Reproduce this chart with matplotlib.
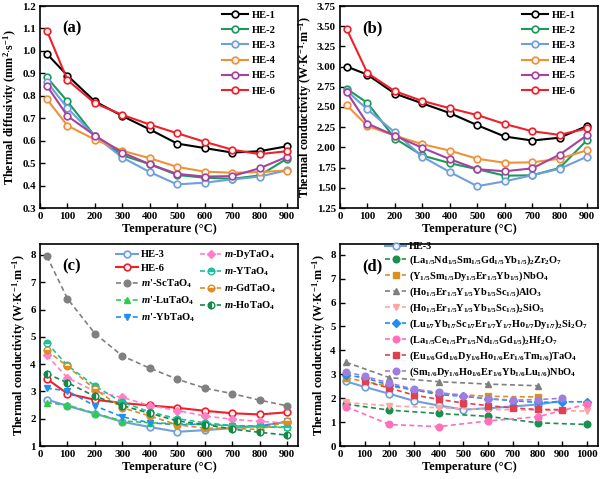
import numpy as np
import matplotlib
matplotlib.use('Agg')
import matplotlib.pyplot as plt

plt.rcParams['font.family'] = ['Liberation Serif', 'DejaVu Serif']
plt.rcParams['font.weight'] = 'bold'
plt.rcParams['axes.labelweight'] = 'bold'
plt.rcParams['mathtext.fontset'] = 'custom'
plt.rcParams['mathtext.rm'] = 'Liberation Serif:bold'
plt.rcParams['mathtext.it'] = 'Liberation Serif:bold:italic'
plt.rcParams['mathtext.bf'] = 'Liberation Serif:bold'

# ---- data ----
T = [25, 100, 200, 300, 400, 500, 600, 700, 800, 900]
names = ['HE-1', 'HE-2', 'HE-3', 'HE-4', 'HE-5', 'HE-6']
cols = ['black', '#1b9a5c', '#6f9fdc', '#f0913a', '#a2449f', '#f0202a']

diff_he1 = [0.987, 0.89, 0.775, 0.71, 0.65, 0.587, 0.567, 0.547, 0.553, 0.575]
diff_he2 = [0.882, 0.775, 0.62, 0.535, 0.495, 0.447, 0.435, 0.43, 0.445, 0.52]
diff_he3 = [0.862, 0.745, 0.62, 0.525, 0.46, 0.405, 0.413, 0.427, 0.44, 0.468]
diff_he4 = [0.785, 0.667, 0.605, 0.555, 0.522, 0.483, 0.462, 0.457, 0.46, 0.467]
diff_he5 = [0.845, 0.71, 0.623, 0.547, 0.495, 0.452, 0.44, 0.442, 0.477, 0.528]
diff_he6 = [1.09, 0.87, 0.767, 0.715, 0.672, 0.633, 0.595, 0.56, 0.54, 0.553]

k_he1 = [3.0, 2.9, 2.665, 2.545, 2.425, 2.275, 2.135, 2.085, 2.12, 2.265]
k_he2 = [2.725, 2.55, 2.11, 1.9, 1.805, 1.73, 1.65, 1.655, 1.745, 2.09]
k_he3 = [2.7, 2.47, 2.185, 1.885, 1.695, 1.52, 1.58, 1.655, 1.735, 1.885]
k_he4 = [2.52, 2.265, 2.145, 2.04, 1.96, 1.86, 1.81, 1.815, 1.86, 1.965]
k_he5 = [2.68, 2.295, 2.145, 1.995, 1.855, 1.73, 1.705, 1.74, 1.91, 2.15]
k_he6 = [3.46, 2.92, 2.695, 2.575, 2.485, 2.4, 2.29, 2.2, 2.155, 2.235]

# panel c, rare-earth tantalates
k_sc = [7.95, 6.4, 5.12, 4.3, 3.85, 3.45, 3.12, 2.92, 2.68, 2.47]
k_lu = [2.58, 2.5, 2.2, 1.92, 1.85, 1.82, 1.78, 1.74, 1.7, 1.68]
k_yb = [3.12, 3.02, 2.47, 2.07, 1.85, 1.78, 1.8, 1.75, 1.72, 1.9]
k_dy = [4.32, 3.5, 3.0, 2.78, 2.48, 2.3, 2.1, 1.98, 1.9, 1.85]
k_y = [4.78, 3.95, 3.2, 2.6, 2.25, 2.0, 1.85, 1.75, 1.7, 1.7]
k_gd = [4.5, 3.92, 3.08, 2.4, 2.1, 1.78, 1.65, 1.65, 1.6, 1.9]
k_ho = [3.65, 3.32, 2.82, 2.48, 2.2, 1.92, 1.78, 1.62, 1.5, 1.4]

# panel d, other high-entropy ceramics
T_zr = [25, 200, 400, 600, 800, 1000]
k_zr = [1.75, 1.5, 1.36, 1.24, 0.97, 0.9]
T_nb5 = [25, 200, 400, 600, 800]
k_nb5 = [2.85, 2.5, 2.2, 2.08, 2.05]
T_al = [25, 200, 400, 600, 800]
k_al = [3.5, 2.86, 2.69, 2.59, 2.52]
T_sio5 = [25, 200, 400, 600, 800, 1000]
k_sio5 = [1.82, 1.68, 1.6, 1.53, 1.5, 1.46]
T_si2 = [25, 100, 200, 300, 400, 500, 600, 700, 800, 900, 1000]
k_si2 = [2.97, 2.85, 2.55, 2.35, 2.15, 2.08, 1.97, 1.9, 1.82, 1.85, 1.85]
T_hf = [25, 200, 400, 600, 800, 1000]
k_hf = [1.64, 0.9, 0.81, 1.05, 1.22, 1.75]
T_ta6 = [100, 200, 300, 400, 500, 600, 700, 800, 900]
k_ta6 = [2.71, 2.42, 2.13, 1.95, 1.8, 1.69, 1.59, 1.53, 1.52]
T_nb6 = [25, 100, 200, 300, 400, 500, 600, 700, 800, 900]
k_nb6 = [3.1, 2.92, 2.63, 2.38, 2.24, 2.1, 1.98, 1.92, 1.94, 2.0]

fig = plt.figure(figsize=(6, 4.79), dpi=100)
W, H = 600, 479
def box(l, r, t, b):
    return [l / W, 1 - b / H, (r - l) / W, (b - t) / H]

axa = fig.add_axes(box(40, 298, 6, 208))
axb = fig.add_axes(box(340, 598, 6, 208))
axc = fig.add_axes(box(40, 298, 244, 446))
axd = fig.add_axes(box(340, 598, 244, 446))

lw = 1.5
ms = 4.8

diffs = [diff_he1, diff_he2, diff_he3, diff_he4, diff_he5, diff_he6]
ks = [k_he1, k_he2, k_he3, k_he4, k_he5, k_he6]
for n, c, d, k in zip(names, cols, diffs, ks):
    axa.plot(T, d, '-o', color=c, lw=lw, ms=ms, mfc='#f4f4f4', mew=1.2, label=n)
    axb.plot(T, k, '-o', color=c, lw=lw, ms=ms, mfc='#f4f4f4', mew=1.2, label=n)

dash = (0, (3, 2))
# panel c
axc.plot(T, k_he3, '-o', color=cols[2], lw=lw, ms=ms, mfc='#f4f4f4', mew=1.2, label='HE-3')
axc.plot(T, k_he6, '-o', color=cols[5], lw=lw, ms=ms, mfc='#f4f4f4', mew=1.2, label='HE-6')
axc.plot(T, k_sc, marker='o', ls=dash, color='#808080', lw=1.2, ms=ms, label=r"$\mathit{m}$'-ScTaO$_4$")
axc.plot(T, k_lu, marker='^', ls=dash, color='#2fcc4a', lw=1.2, ms=ms, label=r"$\mathit{m}$'-LuTaO$_4$")
axc.plot(T, k_yb, marker='v', ls=dash, color='#1e90f0', lw=1.2, ms=ms, label=r"$\mathit{m}$'-YbTaO$_4$")
axc.plot(T, k_dy, marker='D', ls=dash, color='#ff80c8', lw=1.2, ms=ms - 0.8, label=r"$\mathit{m}$-DyTaO$_4$")
axc.plot(T, k_y, marker='o', ls=dash, color='#1fbf9f', lw=1.2, ms=ms, fillstyle='top',
         markerfacecoloralt='white', label=r"$\mathit{m}$-YTaO$_4$")
axc.plot(T, k_gd, marker='o', ls=dash, color='#dc8f22', lw=1.2, ms=ms, fillstyle='bottom',
         markerfacecoloralt='white', label=r"$\mathit{m}$-GdTaO$_4$")
axc.plot(T, k_ho, marker='o', ls=dash, color='#16884a', lw=1.2, ms=ms, fillstyle='left',
         markerfacecoloralt='white', label=r"$\mathit{m}$-HoTaO$_4$")

# panel d
axd.plot(T, k_he3, '-o', color=cols[2], lw=lw, ms=ms, mfc='#f4f4f4', mew=1.2, label='HE-3')
axd.plot(T_zr, k_zr, marker='o', ls=dash, color='#1a9050', lw=1.2, ms=ms,
         label=r'(La$_{1/5}$Nd$_{1/5}$Sm$_{1/5}$Gd$_{1/5}$Yb$_{1/5}$)$_2$Zr$_2$O$_7$')
axd.plot(T_nb5, k_nb5, marker='s', ls=dash, color='#dc9020', lw=1.2, ms=ms,
         label=r'(Y$_{1/5}$Sm$_{1/5}$Dy$_{1/5}$Er$_{1/5}$Yb$_{1/5}$)NbO$_4$')
axd.plot(T_al, k_al, marker='^', ls=dash, color='#7f7f7f', lw=1.2, ms=ms,
         label=r'(Ho$_{1/5}$Er$_{1/5}$Y$_{1/5}$Yb$_{1/5}$Sc$_{1/5}$)AlO$_3$')
axd.plot(T_sio5, k_sio5, marker='v', ls=dash, color='#ffa4a4', lw=1.2, ms=ms,
         label=r'(Ho$_{1/5}$Er$_{1/5}$Y$_{1/5}$Yb$_{1/5}$Sc$_{1/5}$)$_2$SiO$_5$')
axd.plot(T_si2, k_si2, marker='D', ls=dash, color='#1e8ff0', lw=1.2, ms=ms - 0.8,
         label=r'(Lu$_{1/7}$Yb$_{1/7}$Sc$_{1/7}$Er$_{1/7}$Y$_{1/7}$Ho$_{1/7}$Dy$_{1/7}$)$_2$Si$_2$O$_7$')
axd.plot(T_hf, k_hf, marker='o', ls=dash, color='#ff70b8', lw=1.2, ms=ms,
         label=r'(La$_{1/5}$Ce$_{1/5}$Pr$_{1/5}$Nd$_{1/5}$Gd$_{1/5}$)$_2$Hf$_2$O$_7$')
axd.plot(T_ta6, k_ta6, marker='s', ls=dash, color='#e04050', lw=1.2, ms=ms,
         label=r'(Eu$_{1/6}$Gd$_{1/6}$Dy$_{1/6}$Ho$_{1/6}$Er$_{1/6}$Tm$_{1/6}$)TaO$_4$')
axd.plot(T_nb6, k_nb6, marker='o', ls=dash, color='#a07ee0', lw=1.2, ms=ms,
         label=r'(Sm$_{1/6}$Dy$_{1/6}$Ho$_{1/6}$Er$_{1/6}$Yb$_{1/6}$Lu$_{1/6}$)NbO$_4$')

kl = r'Thermal conductivity (W$\cdot$K$^{-1}$$\cdot$m$^{-1}$)'
axa.set_ylabel(r'Thermal diffusivity (mm$^2$$\cdot$s$^{-1}$)', fontsize=8.7, labelpad=2)
axb.set_ylabel(kl, fontsize=8.7, labelpad=2)
axc.set_ylabel(kl, fontsize=8.7, labelpad=2)
axd.set_ylabel(kl, fontsize=8.7, labelpad=2)

for ax in (axa, axb, axc, axd):
    ax.set_xlabel('Temperature (°C)', fontsize=9, labelpad=1)
    ax.tick_params(direction='in', length=3.5, width=1, labelsize=7.8, pad=3)
    for s in ax.spines.values():
        s.set_linewidth(1.2)

for ax in (axa, axb, axc):
    ax.set_xlim(0, 940)
    ax.set_xticks(np.arange(0, 901, 100))
axd.set_xlim(0, 1045)
axd.set_xticks(np.arange(0, 1001, 100))

axa.set_ylim(0.3, 1.2)
axa.set_yticks(np.arange(0.3, 1.21, 0.1))
axa.set_yticklabels([f'{v:.1f}' for v in np.arange(0.3, 1.21, 0.1)])
axb.set_ylim(1.25, 3.75)
axb.set_yticks(np.arange(1.25, 3.76, 0.25))
axb.set_yticklabels([f'{v:.2f}' for v in np.arange(1.25, 3.76, 0.25)])
axc.set_ylim(1, 8.4)
axc.set_yticks(range(1, 9))
axd.set_ylim(0, 8.45)
axd.set_yticks(range(0, 9))

for ax, t in zip((axa, axb, axc, axd), ['(a)', '(b)', '(c)', '(d)']):
    ax.text(0.085, 0.87, t, transform=ax.transAxes, fontsize=12, fontweight='bold')

leg_kw = dict(loc='upper left', bbox_to_anchor=(0.69, 1.0), frameon=False,
              prop={'weight': 'bold', 'size': 7.6}, handlelength=2.4, handletextpad=0.4,
              labelspacing=0.55, borderaxespad=0.0)
axa.legend(**leg_kw)
axb.legend(**leg_kw)
axc.legend(loc='upper left', bbox_to_anchor=(0.28, 1.0), ncol=2, frameon=False,
           prop={'weight': 'bold', 'size': 7.6}, handlelength=2.0, handletextpad=0.3,
           labelspacing=0.42, columnspacing=0.5, borderaxespad=0.0)
axd.legend(loc='upper left', bbox_to_anchor=(0.16, 1.03), frameon=False,
           prop={'weight': 'bold', 'size': 7.4}, handlelength=2.0, handletextpad=0.3,
           labelspacing=0.24, borderaxespad=0.0)

for ax in (axa, axb, axc, axd):
    for lab in ax.get_xticklabels() + ax.get_yticklabels():
        lab.set_fontweight('bold')

fig.savefig('out.png', dpi=100)
